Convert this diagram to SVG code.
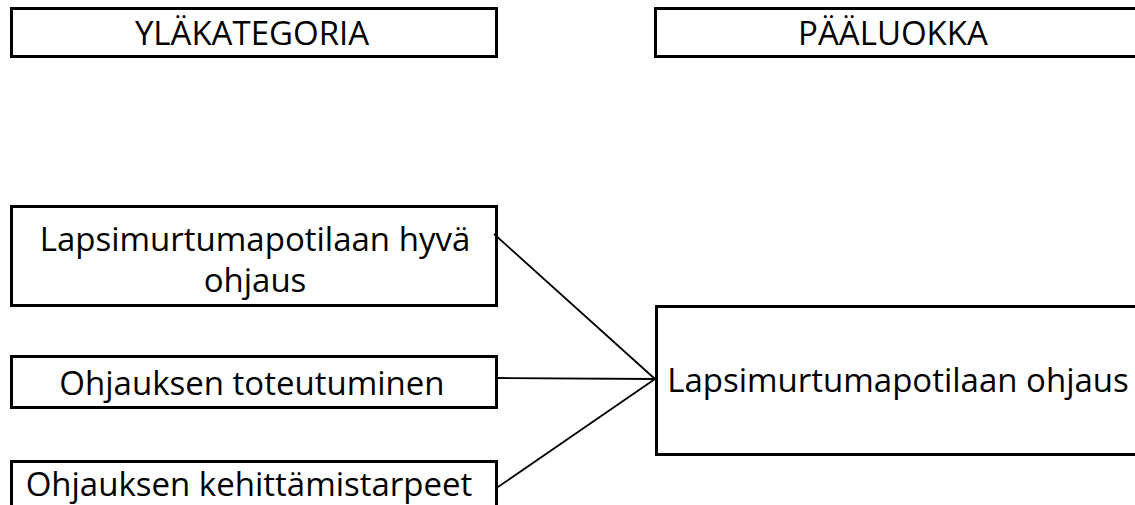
<svg xmlns="http://www.w3.org/2000/svg" width="1135" height="505" viewBox="0 0 1135 505">
<style>
.box{fill:#fff;stroke:#000;stroke-width:3}
.t{font-family:"Open Sans","Liberation Sans",sans-serif;font-size:33px;fill:#000;text-anchor:middle}
.c{stroke:#000;stroke-width:1.8;fill:none}
</style>
<rect width="1135" height="505" fill="#fff"/>
<g id="n-ylakategoria"><rect class="box" x="11.5" y="8.5" width="485" height="48"/><text class="t" x="252" y="45">YLÄKATEGORIA</text></g>
<g id="n-paaluokka"><rect class="box" x="655.5" y="8.5" width="500" height="48"/><text class="t" x="893" y="45">PÄÄLUOKKA</text></g>
<g id="n-hyva"><rect class="box" x="11.5" y="206.5" width="485" height="99"/><text class="t" x="255"><tspan x="255" y="251">Lapsimurtumapotilaan hyvä</tspan><tspan x="255" y="292">ohjaus</tspan></text></g>
<g id="n-toteutuminen"><rect class="box" x="11.5" y="356.5" width="485" height="51"/><text class="t" x="252" y="395">Ohjauksen toteutuminen</text></g>
<g id="n-kehittamistarpeet"><rect class="box" x="11.5" y="461.5" width="485" height="60"/><text class="t" x="249" y="496">Ohjauksen kehittämistarpeet</text></g>
<g id="n-ohjaus"><rect class="box" x="656.5" y="306.5" width="500" height="148"/><text class="t" x="898" y="392">Lapsimurtumapotilaan ohjaus</text></g>
<g id="connectors">
<line class="c" x1="494" y1="234" x2="655" y2="379"/>
<line class="c" x1="498" y1="378" x2="655" y2="379"/>
<line class="c" x1="498" y1="487" x2="655" y2="379"/>
</g>
</svg>
